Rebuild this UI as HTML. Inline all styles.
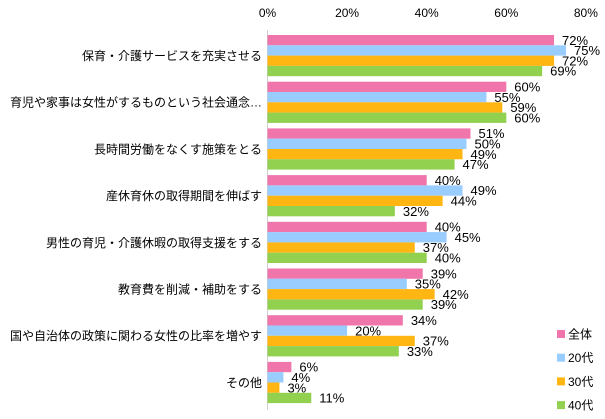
<!DOCTYPE html>
<html><head><meta charset="utf-8"><style>
body{margin:0;background:#fff;}
svg{display:block;font-family:"Liberation Sans","Noto Sans CJK JP",sans-serif;}
</style></head><body>
<svg id="chart" width="605" height="419"></svg>
<script>
const categories=["保育・介護サービスを充実させる","育児や家事は女性がするものという社会通念…","長時間労働をなくす施策をとる","産休育休の取得期間を伸ばす","男性の育児・介護休暇の取得支援をする","教育費を削減・補助をする","国や自治体の政策に関わる女性の比率を増やす","その他"];
const seriesNames=["全体","20代","30代","40代"];
const seriesColors=["#f075ab","#99ccff","#ffb612","#92d050"];
const valAll=[72,60,51,40,40,39,34,6];
const val20=[75,55,50,49,45,35,20,4];
const val30=[72,59,49,44,37,42,37,3];
const val40=[69,60,47,32,40,39,33,11];
const ticks=[0,20,40,60,80];
const series=[valAll,val20,val30,val40];
const svg=document.getElementById('chart');
const NS='http://www.w3.org/2000/svg';
const x0=267.5, pxPer=3.98, topY=35, pitch=46.7, barH=10.3;
const xs=v=>x0+v*pxPer;
function mk(t,a){const e=document.createElementNS(NS,t);for(const k in a)e.setAttribute(k,a[k]);svg.appendChild(e);return e;}
ticks.forEach(t=>{const e=mk('text',{x:xs(t),y:17,'text-anchor':'middle','font-size':12,fill:'#000'});e.textContent=t+'%';

});
const ax=mk('line',{x1:x0,x2:x0,y1:30,y2:410,stroke:'#d0d0d0','stroke-width':1});


categories.forEach((c,i)=>{
  const gy=topY+i*pitch;
  const l=mk('text',{x:262,y:gy+25,'text-anchor':'end','font-size':12,fill:'#000'});l.textContent=c;
  
  
  series.forEach((s,j)=>{
    const y=gy+j*barH;
    const r=mk('rect',{x:x0,y:y,width:s[i]*pxPer,height:barH,fill:seriesColors[j]});
    
    
    const t=mk('text',{x:xs(s[i])+8,y:y+barH-0.5,'font-size':13,fill:'#000'});t.textContent=s[i]+'%';
    
    
  });
});
seriesNames.forEach((n,j)=>{
  const cy=334+j*23.7;
  const r=mk('rect',{x:557,y:cy-4,width:8,height:8,fill:seriesColors[j]});
  
  
  const t=mk('text',{x:568,y:cy+4.5,'font-size':12,fill:'#000'});t.textContent=n;
  
  
});
</script>
</body></html>
